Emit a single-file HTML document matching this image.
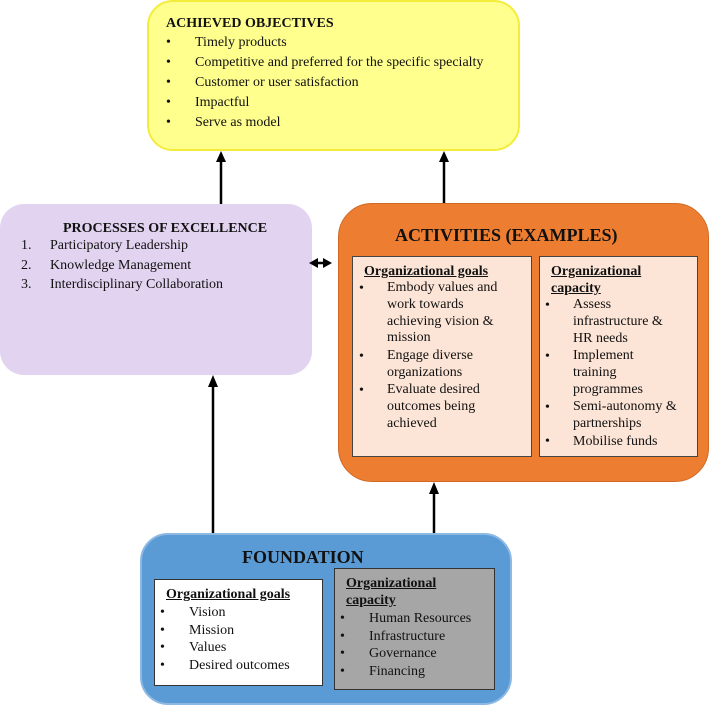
<!DOCTYPE html>
<html><head><meta charset="utf-8"><style>
body{margin:0;width:709px;height:708px;position:relative;background:#fff;font-family:"Liberation Serif","DejaVu Serif",serif;color:#111;overflow:hidden}
.b{position:absolute;box-sizing:border-box}
.t{position:absolute;white-space:nowrap;font-size:14px;line-height:17px}
.h{font-weight:bold}
.u{font-weight:bold;text-decoration:underline}
</style></head><body>
<div class="b" style="left:147px;top:0;width:373px;height:151px;background:#ffff8e;border:2px solid #f4ec3a;border-radius:26px"></div>
<div class="b" style="left:0;top:204px;width:312px;height:171px;background:#e2d4f0;border-radius:24px"></div>
<div class="b" style="left:338px;top:203px;width:371px;height:279px;background:#ed7d31;border:1px solid #d06a25;border-radius:34px"></div>
<div class="b" style="left:352px;top:256px;width:180px;height:201px;background:#fce4d6;border:1px solid #444"></div>
<div class="b" style="left:539px;top:256px;width:159px;height:201px;background:#fce4d6;border:1px solid #444"></div>
<div class="b" style="left:140px;top:533px;width:372px;height:172px;background:#5b9bd5;border:2px solid #8cb8e4;border-radius:28px"></div>
<div class="b" style="left:154px;top:579px;width:169px;height:107px;background:#fff;border:1px solid #333"></div>
<div class="b" style="left:334px;top:568px;width:161px;height:122px;background:#a6a6a6;border:1px solid #333"></div>

<svg width="709" height="708" style="position:absolute;left:0;top:0">
<g stroke="#000" stroke-width="2.5" fill="#000">
<line x1="221" y1="204" x2="221" y2="160"/><polygon points="216,162 226,162 221,151" stroke="none"/>
<line x1="444" y1="203" x2="444" y2="160"/><polygon points="439,162 449,162 444,151" stroke="none"/>
<line x1="213" y1="533" x2="213" y2="385"/><polygon points="208,387 218,387 213,375" stroke="none"/>
<line x1="434" y1="533" x2="434" y2="494"/><polygon points="429,494 439,494 434,482" stroke="none"/>
<line x1="316" y1="263" x2="328" y2="263"/><polygon points="309,263 318,258 318,268" stroke="none"/><polygon points="332,263 323,258 323,268" stroke="none"/>
</g></svg>

<div class="t h" style="left:166px;top:15px">ACHIEVED OBJECTIVES</div>
<div class="t" style="left:166px;top:34px">•</div><div class="t" style="left:195px;top:34px">Timely products</div>
<div class="t" style="left:166px;top:54px">•</div><div class="t" style="left:195px;top:54px">Competitive and preferred for the specific specialty</div>
<div class="t" style="left:166px;top:74px">•</div><div class="t" style="left:195px;top:74px">Customer or user satisfaction</div>
<div class="t" style="left:166px;top:94px">•</div><div class="t" style="left:195px;top:94px">Impactful</div>
<div class="t" style="left:166px;top:114px">•</div><div class="t" style="left:195px;top:114px">Serve as model</div>

<div class="t h" style="left:63px;top:220px">PROCESSES OF EXCELLENCE</div>
<div class="t" style="left:21px;top:237px">1.</div><div class="t" style="left:50px;top:237px">Participatory Leadership</div>
<div class="t" style="left:21px;top:257px">2.</div><div class="t" style="left:50px;top:257px">Knowledge Management</div>
<div class="t" style="left:21px;top:276px">3.</div><div class="t" style="left:50px;top:276px">Interdisciplinary Collaboration</div>

<div class="t h" style="left:395px;top:224px;font-size:18px;line-height:22px">ACTIVITIES (EXAMPLES)</div>
<div class="t u" style="left:364px;top:263px">Organizational goals</div>
<div class="t" style="left:359px;top:280px">•</div><div class="t" style="left:387px;top:280px;line-height:16.8px">Embody values and<br>work towards<br>achieving vision &amp;<br>mission</div>
<div class="t" style="left:359px;top:348px">•</div><div class="t" style="left:387px;top:348px;line-height:16.8px">Engage diverse<br>organizations</div>
<div class="t" style="left:359px;top:382px">•</div><div class="t" style="left:387px;top:382px;line-height:16.8px">Evaluate desired<br>outcomes being<br>achieved</div>
<div class="t u" style="left:551px;top:263px;line-height:17px">Organizational<br>capacity</div>
<div class="t" style="left:545px;top:297px">•</div><div class="t" style="left:573px;top:297px;line-height:16.8px">Assess<br>infrastructure &amp;<br>HR needs</div>
<div class="t" style="left:545px;top:348px">•</div><div class="t" style="left:573px;top:348px;line-height:16.8px">Implement<br>training<br>programmes</div>
<div class="t" style="left:545px;top:399px">•</div><div class="t" style="left:573px;top:399px;line-height:16.8px">Semi-autonomy &amp;<br>partnerships</div>
<div class="t" style="left:545px;top:433px">•</div><div class="t" style="left:573px;top:433px">Mobilise funds</div>

<div class="t h" style="left:242px;top:546px;font-size:18px;line-height:22px">FOUNDATION</div>
<div class="t u" style="left:166px;top:586px">Organizational goals</div>
<div class="t" style="left:160px;top:604px">•</div><div class="t" style="left:189px;top:604px">Vision</div>
<div class="t" style="left:160px;top:622px">•</div><div class="t" style="left:189px;top:622px">Mission</div>
<div class="t" style="left:160px;top:639px">•</div><div class="t" style="left:189px;top:639px">Values</div>
<div class="t" style="left:160px;top:657px">•</div><div class="t" style="left:189px;top:657px">Desired outcomes</div>
<div class="t u" style="left:346px;top:575px;line-height:17px">Organizational<br>capacity</div>
<div class="t" style="left:340px;top:610px">•</div><div class="t" style="left:369px;top:610px">Human Resources</div>
<div class="t" style="left:340px;top:628px">•</div><div class="t" style="left:369px;top:628px">Infrastructure</div>
<div class="t" style="left:340px;top:645px">•</div><div class="t" style="left:369px;top:645px">Governance</div>
<div class="t" style="left:340px;top:663px">•</div><div class="t" style="left:369px;top:663px">Financing</div>
</body></html>
